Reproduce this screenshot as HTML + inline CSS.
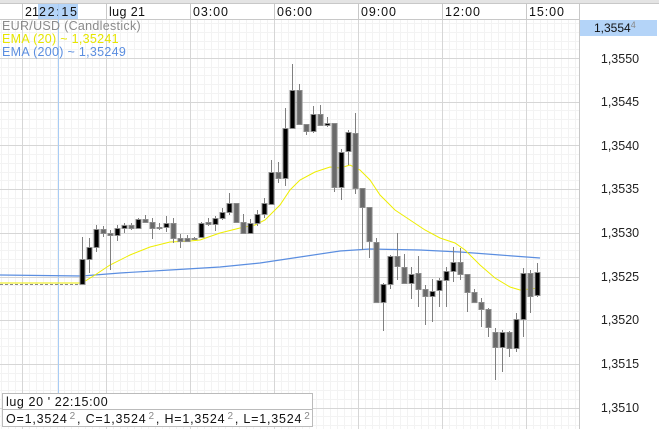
<!DOCTYPE html>
<html><head><meta charset="utf-8"><style>
html,body{margin:0;padding:0;background:#fff;}
svg{display:block;font-family:"Liberation Sans",sans-serif;}
</style></head><body>
<svg id="s" width="659" height="429" viewBox="0 0 659 429" xmlns="http://www.w3.org/2000/svg">
<rect x="0" y="0" width="659" height="429" fill="#fff"/>
<g id="minor"></g>
<g id="major" stroke="#d6d6d6" stroke-width="1"></g>
<rect x="0" y="0" width="659" height="3" fill="#e4e4e4"/>
<line x1="0" y1="3.5" x2="659" y2="3.5" stroke="#c8c8c8"/>
<rect x="0" y="4" width="579" height="15" fill="#fff"/>
<rect x="38" y="4" width="40" height="15" fill="#b4d4f8"/>
<line x1="0" y1="19.5" x2="579" y2="19.5" stroke="#c8c8c8"/>
<g font-size="12.5" fill="#111">
<text x="25" y="16">21</text><text x="39" y="16" textLength="38">22:15</text>
<text x="109" y="16" textLength="36">lug 21</text>
<text x="193" y="16" textLength="35">03:00</text><text x="277" y="16" textLength="35">06:00</text>
<text x="361" y="16" textLength="35">09:00</text><text x="445" y="16" textLength="35">12:00</text><text x="529" y="16" textLength="35">15:00</text>
</g>
<g stroke="#c8c8c8"><line x1="22.5" y1="4" x2="22.5" y2="19"/><line x1="106.5" y1="4" x2="106.5" y2="19"/><line x1="190.5" y1="4" x2="190.5" y2="19"/><line x1="274.5" y1="4" x2="274.5" y2="19"/><line x1="358.5" y1="4" x2="358.5" y2="19"/><line x1="442.5" y1="4" x2="442.5" y2="19"/><line x1="526.5" y1="4" x2="526.5" y2="19"/></g>
<rect x="579" y="4" width="80" height="425" fill="#fff"/>
<line x1="579.5" y1="4" x2="579.5" y2="429" stroke="#c8c8c8"/>
<rect x="580" y="20" width="77" height="16" fill="#b4d4f8"/>
<text x="594" y="32" font-size="12" fill="#111">1,3554<tspan font-size="9" fill="#888" dy="-4">4</tspan></text>
<g font-size="12.5" fill="#222" text-anchor="middle">
<text x="620" y="63">1,3550</text><text x="620" y="106">1,3545</text><text x="620" y="150">1,3540</text>
<text x="620" y="193">1,3535</text><text x="620" y="237">1,3530</text><text x="620" y="281">1,3525</text>
<text x="620" y="324">1,3520</text><text x="620" y="368">1,3515</text><text x="620" y="412">1,3510</text>
</g>
<line x1="58.5" y1="4" x2="58.5" y2="393" stroke="#a8ccf5"/>
<g font-size="12.5">
<text x="2" y="30" fill="#8a8a8a" letter-spacing="0.3">EUR/USD (Candlestick)</text>
<text x="2" y="43" fill="#e6e600" letter-spacing="0.3">EMA (20) ~ 1,35241</text>
<text x="2" y="56" fill="#5b8ee0" letter-spacing="0.3">EMA (200) ~ 1,35249</text>
</g>
<line x1="0" y1="284.5" x2="82" y2="284.5" stroke="#888" stroke-dasharray="3,2"/>
<polyline fill="none" stroke="#5b8ee0" stroke-width="1.2" points="0,275 82,276 120,273 170,270 220,267 260,263 300,257 340,251 370,249 420,250 460,252 500,255 540,258"/>
<polyline fill="none" stroke="#eeee00" stroke-width="1" points="0,283 82,283 95,275 110,265 130,255 150,247 170,242 190,241 200,240 220,233 240,228 255,225 265,220 280,205 290,190 300,180 315,172 330,167 340,168 350,165 360,170 370,180 380,195 395,210 410,220 425,230 440,238 455,243 465,250 480,265 495,278 510,287 520,290 530,289 538,288"/>
<g id="candles"></g>
<rect x="2.5" y="393.5" width="310" height="33" fill="#fff" stroke="#bbb"/>
<line x1="3" y1="409.5" x2="312" y2="409.5" stroke="#bbb"/>
<text x="6" y="406" font-size="12.5" fill="#111" letter-spacing="0.6">lug 20 ' 22:15:00</text>
<text x="6" y="423" font-size="12.5" fill="#111" letter-spacing="0.8">O=1,3524<tspan font-size="10" fill="#888" dx="2" dy="-4">2</tspan><tspan dx="1" dy="4">, C=1,3524</tspan><tspan font-size="10" fill="#888" dx="2" dy="-4">2</tspan><tspan dx="1" dy="4">, H=1,3524</tspan><tspan font-size="10" fill="#888" dx="2" dy="-4">2</tspan><tspan dx="1" dy="4">, L=1,3524</tspan><tspan font-size="10" fill="#888" dx="2" dy="-4">2</tspan></text>
</svg>
<script>
var NS="http://www.w3.org/2000/svg";
function el(p,t,a){var e=document.createElementNS(NS,t);for(var k in a)e.setAttribute(k,a[k]);p.appendChild(e);return e;}
var mi=document.getElementById("minor"),ma=document.getElementById("major");
for(var x=1;x<579;x+=7){el(mi,"line",{x1:x+.5,y1:20,x2:x+.5,y2:429,stroke:"#f3f3f3"});}
for(var i=0;i<50;i++){var y=Math.round(58-43.7*1+i*8.74)+.5;if(y>20)el(mi,"line",{x1:0,y1:y,x2:579,y2:y,stroke:"#f3f3f3"});}
[22,106,190,274,358,442,526].forEach(function(x){el(ma,"line",{x1:x+.5,y1:20,x2:x+.5,y2:429});});
for(var i=0;i<9;i++){var y=Math.round(58+i*43.7)+.5;el(ma,"line",{x1:0,y1:y,x2:579,y2:y});}
var C=[[237,284,259,284,1],[238,273,247,259,1],[225,252,229,247,1],[226,237,229,233,0],[230,270,233,235,0],[225,241,228,235,1],[223,233,225,228,1],[223,230,225,228,0],[218,228,219,228,1],[215,223,219,222,0],[218,239,222,228,0],[223,230,227,228,0],[216,232,223,227,1],[218,243,223,238,0],[234,248,238,241,0],[235,242,238,241,0],[237,240,238,239,0],[222,238,223,237,1],[218,226,222,224,0],[216,231,218,224,1],[208,220,212,218,1],[193,215,203,212,1],[203,223,203,222,0],[214,233,222,233,0],[219,234,223,233,1],[210,226,214,223,1],[198,218,203,214,1],[160,205,172,204,1],[162,183,172,178,0],[108,186,128,178,1],[64,128,90,128,1],[84,124,90,124,0],[124,135,124,131,0],[106,133,114,131,1],[105,126,114,125,0],[117,127,123,125,1],[123,192,123,187,0],[149,200,152,187,1],[130,165,132,151,1],[113,194,133,188,0],[188,250,188,207,0],[207,258,207,241,0],[238,303,242,302,0],[283,331,284,302,1],[255,289,256,284,1],[233,280,256,266,0],[254,283,267,283,0],[267,299,274,283,1],[256,307,273,289,0],[285,325,289,296,0],[279,322,291,296,1],[278,307,280,290,1],[267,307,271,280,1],[247,282,262,271,1],[248,280,262,274,0],[274,312,274,292,0],[289,303,292,302,0],[298,327,302,309,0],[308,337,309,327,0],[328,380,332,347,0],[330,372,332,347,1],[331,357,332,348,0],[313,352,319,348,1],[268,337,273,319,1],[270,313,273,296,0],[263,297,272,295,1]];
var g=document.getElementById("candles");
C.forEach(function(c,i){var x=82+i*7;
el(g,"line",{x1:x+.5,y1:c[0],x2:x+.5,y2:c[1],stroke:"#808080"});
var h=Math.max(1,c[3]-c[2]);
el(g,"rect",{x:x-2,y:c[2]+.5,width:5,height:h,fill:c[4]?"#000":"#6a6a6a",stroke:"#8a8a8a","stroke-width":1});
});
</script>
</body></html>
